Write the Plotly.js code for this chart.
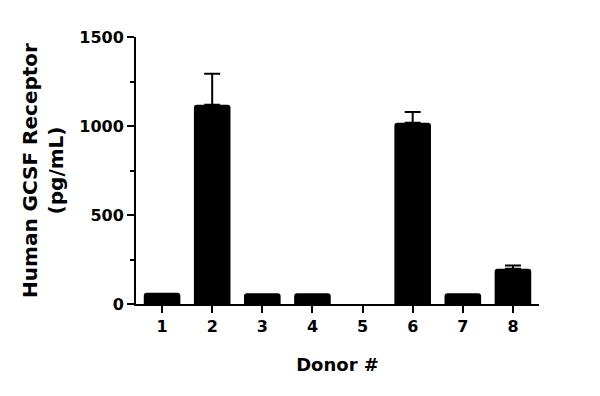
<!DOCTYPE html>
<html>
<head>
<meta charset="utf-8">
<script src="https://cdn.plot.ly/plotly-3.0.1.min.js"></script>
<style>html,body{margin:0;padding:0;background:#fff}#chart{width:600px;height:396px}</style>
</head>
<body>
<div id="chart"></div>
<script>
const donors = ["1", "2", "3", "4", "5", "6", "7", "8"];
const values = [63, 1119, 60, 60, 0, 1018, 60, 198];
const errors = [0, 175, 0, 0, 0, 60, 0, 18];
const yTickVals = [0, 500, 1000, 1500];
const yMinorVals = [250, 750, 1250];

const font = "DejaVu Sans, sans-serif";

const trace = {
  type: "bar",
  x: donors,
  y: values,
  width: 0.73,
  marker: {color: "#000", cornerradius: 3, line: {width: 0}},
  error_y: {type: "data", array: errors.map(e => e > 0 ? e : NaN), symmetric: false,
            arrayminus: errors.map(() => NaN),
            visible: true, color: "#000", thickness: 2, width: 8},
  hoverinfo: "none"
};

const layout = {
  width: 600, height: 396,
  margin: {l: 136, r: 61, t: 37, b: 92},
  paper_bgcolor: "#fff", plot_bgcolor: "#fff",
  showlegend: false,
  xaxis: {
    type: "category",
    range: [-0.52, 7.52],
    showline: true, linecolor: "#000", linewidth: 2,
    ticks: "outside", ticklen: 7, tickwidth: 2, tickcolor: "#000",
    showgrid: false, zeroline: false,
    tickfont: {family: font, size: 16, color: "#000", weight: "bold"},
    title: {text: "Donor #", font: {family: font, size: 18, color: "#000", weight: "bold"}, standoff: 23}
  },
  yaxis: {
    range: [0, 1500],
    tickvals: yTickVals,
    ticktext: yTickVals.map(String),
    showline: true, linecolor: "#000", linewidth: 2,
    ticks: "outside", ticklen: 7, tickwidth: 2, tickcolor: "#000",
    minor: {tickvals: yMinorVals, ticks: "outside", ticklen: 4, tickwidth: 2, tickcolor: "#000", showgrid: false},
    showgrid: false, zeroline: false,
    tickfont: {family: font, size: 16, color: "#000", weight: "bold"},
    title: {text: "Human GCSF Receptor<br>(pg/mL)", font: {family: font, size: 20, color: "#000", weight: "bold"}, standoff: 10}
  }
};

Plotly.newPlot("chart", [trace], layout, {staticPlot: true, displayModeBar: false});
</script>
</body>
</html>
